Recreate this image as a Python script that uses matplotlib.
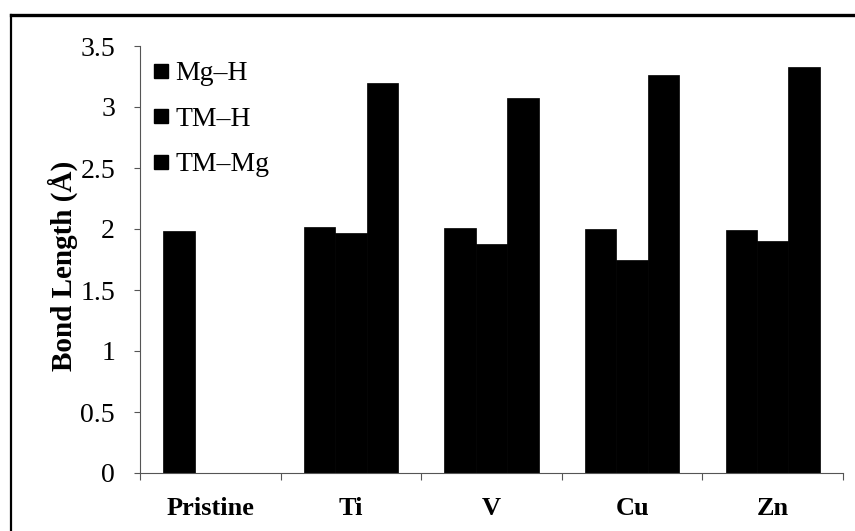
import numpy as np
import matplotlib
matplotlib.use("Agg")
import matplotlib.pyplot as plt
from matplotlib.lines import Line2D

plt.rcParams["font.family"] = ["Liberation Serif", "DejaVu Serif"]

# ── data ────────────────────────────────────────────────────────────────────
categories = ["Pristine", "Ti", "V", "Cu", "Zn"]
series_names = ["Mg\u2013H", "TM\u2013H", "TM\u2013Mg"]
mg_h  = [1.98, 2.02, 2.01, 2.00, 1.99]
tm_h  = [np.nan, 1.97, 1.88, 1.75, 1.90]
tm_mg = [np.nan, 3.20, 3.07, 3.26, 3.33]
yticks = [0, 0.5, 1, 1.5, 2, 2.5, 3, 3.5]
ytick_labels = ["0", "0.5", "1", "1.5", "2", "2.5", "3", "3.5"]

# ── figure ──────────────────────────────────────────────────────────────────
W, H = 855, 531
AX_W, AX_H = 843 - 140, 473 - 46
fig = plt.figure(figsize=(W / 100, H / 100), dpi=100)
ax = fig.add_axes([140 / W, 1 - 473 / H, AX_W / W, AX_H / H])

x = np.arange(len(categories))
bw = 0.223
for i, vals in enumerate([mg_h, tm_h, tm_mg]):
    ax.bar(x + (i - 1) * bw, vals, width=bw, color="black",
           edgecolor="black", linewidth=0.5, label=series_names[i])

ax.set_xlim(-0.5, len(categories) - 0.5)
ax.set_ylim(0, 3.5)

# category boundaries get the ticks, names sit in between
ax.set_xticks(np.arange(-0.5, len(categories), 1.0))
ax.set_xticklabels([])
ax.set_xticks(x, minor=True)
ax.set_xticklabels(categories, minor=True, fontsize=19, fontweight="bold")
ax.tick_params(axis="x", which="major", direction="out", length=5,
               width=0.8, color="#555555")
ax.tick_params(axis="x", which="minor", length=0, pad=17)

ax.set_yticks(yticks)
ax.set_yticklabels(ytick_labels, fontsize=20)
ax.tick_params(axis="y", direction="out", length=4, width=0.8,
               color="#555555", pad=14)

for side in ["top", "right"]:
    ax.spines[side].set_visible(False)
for side in ["left", "bottom"]:
    ax.spines[side].set_color("#555555")
    ax.spines[side].set_linewidth(0.8)

ax.set_ylabel("Bond Length (\u00c5)", fontsize=21, fontweight="bold")
ax.yaxis.set_label_coords(-62 / AX_W, 0.484)

handles = [Line2D([0], [0], marker="s", color="none", markerfacecolor="black",
                  markeredgecolor="black", markersize=10) for _ in series_names]
ax.legend(handles, series_names, loc="upper left",
          bbox_to_anchor=(13 / AX_W, 1 - 15 / AX_H),
          frameon=False, fontsize=20, handlelength=0.55, handletextpad=0.25,
          labelspacing=0.72, borderaxespad=0.0, borderpad=0.0)

# scanned frame: top and left edges
fig.add_artist(Line2D([11 / W, 11 / W], [0, 1 - 15 / H],
                      transform=fig.transFigure, color="black", linewidth=1.6))
fig.add_artist(Line2D([11 / W, 1], [1 - 15 / H, 1 - 15 / H],
                      transform=fig.transFigure, color="black", linewidth=2.4))

fig.savefig("out.png", dpi=100)
